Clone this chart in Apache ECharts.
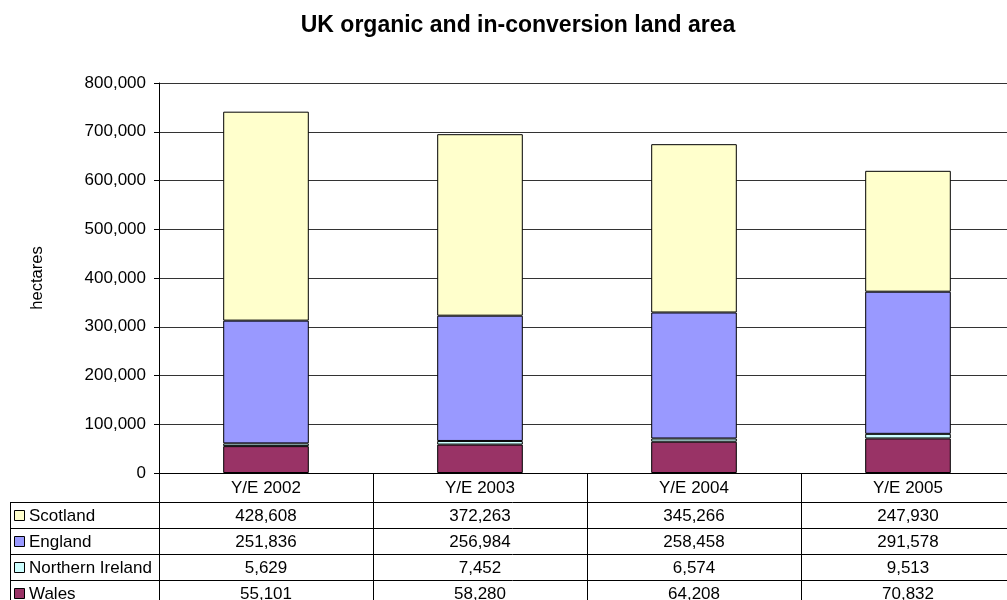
<!DOCTYPE html>
<html>
<head>
<meta charset="utf-8">
<script src="https://cdn.jsdelivr.net/npm/echarts@6/dist/echarts.min.js"></script>
<style>
  html, body { margin: 0; padding: 0; background: #fff; overflow: hidden; }
  /* the plot area runs a little past the right edge of the window */
  #chart { width: 1015px; height: 600px; }
</style>
</head>
<body>
<div id="chart"></div>
<script>
// Year-end land area (hectares), by country
const years = ['Y/E 2002', 'Y/E 2003', 'Y/E 2004', 'Y/E 2005'];
const scotland = [428608, 372263, 345266, 247930];
const england = [251836, 256984, 258458, 291578];
const northernIreland = [5629, 7452, 6574, 9513];
const wales = [55101, 58280, 64208, 70832];

// Data table rows, top to bottom
const rowNames = ['Scotland', 'England', 'Northern Ireland', 'Wales'];
const rowValues = [scotland, england, northernIreland, wales];

const FONT = "'Liberation Sans', Arial, sans-serif";
const colors = {
  'Scotland': '#FFFFCC',
  'England': '#9999FF',
  'Northern Ireland': '#CCFFFF',
  'Wales': '#993366'
};

const fmt = v => v.toLocaleString('en-US');

const chart = echarts.init(document.getElementById('chart'));

// stacked from the bottom up: Wales, Northern Ireland, England, Scotland
const stackOrder = ['Wales', 'Northern Ireland', 'England', 'Scotland'];
const series = stackOrder.map(name => ({
  name: name,
  type: 'bar',
  stack: 'area',
  barWidth: '40%',
  data: rowValues[rowNames.indexOf(name)],
  itemStyle: { color: colors[name], borderColor: '#000', borderWidth: 1 },
  emphasis: { disabled: true }
}));

chart.setOption({
  animation: false,
  backgroundColor: '#fff',
  textStyle: { fontFamily: FONT },
  grid: { left: 159, right: 0, top: 83, bottom: 127, containLabel: false },
  xAxis: {
    type: 'category',
    data: years,
    axisLine: { lineStyle: { color: '#000', width: 1 } },
    axisTick: { show: true, length: 140, lineStyle: { color: '#000', width: 1 } },
    axisLabel: { color: '#000', fontSize: 17, fontFamily: FONT, margin: 7 }
  },
  yAxis: {
    type: 'value',
    min: 0,
    max: 800000,
    interval: 100000,
    name: 'hectares',
    nameLocation: 'middle',
    nameRotate: 90,
    nameGap: 113,
    nameTextStyle: { color: '#000', fontSize: 16.5, fontFamily: FONT },
    axisLine: { show: true, lineStyle: { color: '#000', width: 1 } },
    axisTick: { show: true, length: 5, lineStyle: { color: '#000' } },
    axisLabel: { color: '#000', fontSize: 17, fontFamily: FONT, margin: 13, formatter: v => fmt(v) },
    splitLine: { show: true, lineStyle: { color: '#333', width: 1 } }
  },
  series: series
});

// Data table under the plot, aligned to the category axis
const xs = years.map(y => chart.convertToPixel({ xAxisIndex: 0 }, y));
const headerBottom = 502;
const rowH = 26;
const tableLeft = 10;
const tableRight = 1015;
const graphics = [];

graphics.push({
  type: 'text',
  style: {
    text: 'UK organic and in-conversion land area',
    x: 518, y: 26,
    align: 'center', verticalAlign: 'middle',
    font: 'bold 23px ' + FONT,
    fill: '#000'
  }
});

for (let i = 0; i <= rowNames.length; i++) {
  const y = headerBottom + i * rowH + 0.5;
  graphics.push({
    type: 'line',
    shape: { x1: tableLeft, y1: y, x2: tableRight, y2: y },
    style: { stroke: '#000', lineWidth: 1 }
  });
}
graphics.push({
  type: 'line',
  shape: { x1: tableLeft + 0.5, y1: headerBottom, x2: tableLeft + 0.5, y2: headerBottom + rowNames.length * rowH + 1 },
  style: { stroke: '#000', lineWidth: 1 }
});

rowNames.forEach((name, r) => {
  const cy = headerBottom + r * rowH + rowH / 2;
  graphics.push({
    type: 'rect',
    shape: { x: 14.5, y: Math.round(cy - 5) + 0.5, width: 10, height: 10 },
    style: { fill: colors[name], stroke: '#000', lineWidth: 1 }
  });
  graphics.push({
    type: 'text',
    style: {
      text: name, x: 29, y: cy + 1,
      align: 'left', verticalAlign: 'middle',
      font: '17px ' + FONT, fill: '#000'
    }
  });
  rowValues[r].forEach((v, c) => {
    graphics.push({
      type: 'text',
      style: {
        text: fmt(v), x: xs[c], y: cy + 1,
        align: 'center', verticalAlign: 'middle',
        font: '17px ' + FONT, fill: '#000'
      }
    });
  });
});

chart.setOption({ graphic: graphics });
</script>
</body>
</html>
